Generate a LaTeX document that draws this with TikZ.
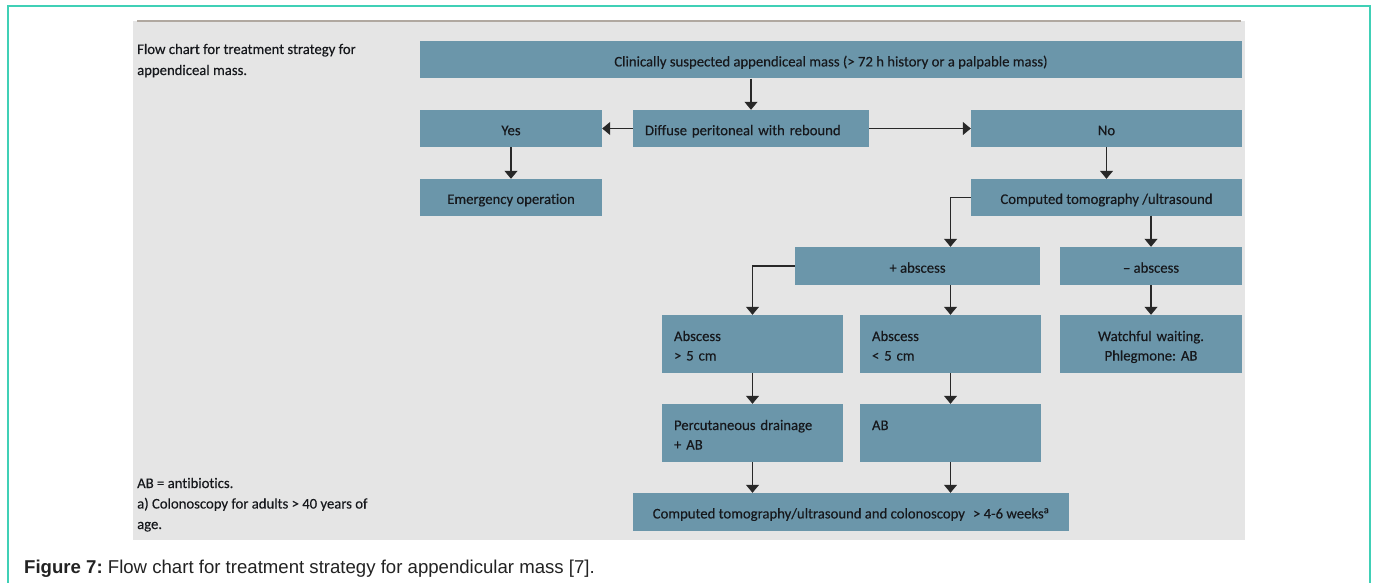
\documentclass[tikz,border=0pt]{standalone}
\usepackage{fontspec}
\setmainfont{Carlito}[Ligatures=NoCommon, FakeBold=0.25]
\newfontfamily\capfont{Liberation Sans}
\usetikzlibrary{arrows.meta}
\definecolor{boxblue}{RGB}{107,150,170}
\definecolor{boxtext}{RGB}{22,24,28}
\definecolor{bggray}{RGB}{229,229,229}
\definecolor{topline}{RGB}{176,168,160}
\definecolor{teal}{RGB}{64,208,182}
\definecolor{linec}{RGB}{40,40,40}
\definecolor{captext}{RGB}{34,34,34}
\frenchspacing
\begin{document}
\begin{tikzpicture}[x=1pt,y=-1pt,
  bfont/.style={font=\fontsize{14.7}{19.5}\selectfont\frenchspacing},
  box/.style={fill=boxblue, text=boxtext, inner sep=0pt, bfont},
  one/.style={text height=13.4pt, text depth=0pt},
  two/.style={text height=10pt, text depth=16pt},
  bx/.style 2 args={box, one, minimum width=#1, minimum height=#2},
  lbx/.style 2 args={box, two, minimum width=#1, minimum height=#2, inner xsep=12pt, text width=#1-24pt, align=left},
  cbx/.style 2 args={box, two, minimum width=#1, minimum height=#2, inner xsep=6pt, text width=#1-12pt, align=center},
  note/.style={anchor=base west, inner sep=0pt, text=boxtext, bfont},
  arr/.style={draw=linec, line width=1.1pt, -{Triangle[width=13pt,length=8pt]}}]
\useasboundingbox (0,0) rectangle (1375,583);
\fill[white] (0,0) rectangle (1375,583);
% outer frame
\draw[teal, line width=1.5pt] (8,583) -- (8,6) -- (1370,6) -- (1370,583);
% gray panel
\fill[bggray] (133,21) rectangle (1245,540);
\draw[topline, line width=2pt] (137,21.5) -- (1241,21.5);

% notes
\node[note] (n1) at (137,54) {Flow chart for treatment strategy for};
\node[note] (n2) at (137,75) {appendiceal mass.};
\node[note] (n3) at (137,488) {AB = antibiotics.};
\node[note] (n4) at (137,508.5) {a) Colonoscopy for adults > 40 years of};
\node[note] (n5) at (137,529) {age.};

% boxes
\node[bx={822pt}{37.5pt}] (top) at (831,59.75) {Clinically suspected appendiceal mass (> 72 h history or a palpable mass)};
\node[bx={182pt}{37pt}] (yes) at (511,128.5) {Yes};
\node[bx={236pt}{37pt}, inner xsep=12pt, text width=212pt, align=left] (diff) at (751,128.5) {Diffuse peritoneal with rebound};
\node[bx={271pt}{37pt}] (no) at (1106.5,128.5) {No};
\node[bx={182pt}{36.5pt}] (emerg) at (511,197.25) {Emergency operation};
\node[bx={271pt}{36.5pt}] (ct) at (1106.5,197.25) {Computed tomography /ultrasound};
\node[bx={245pt}{38pt}] (plus) at (917.5,266) {+ abscess};
\node[bx={182pt}{38pt}] (minus) at (1151,266) {– abscess};
\node[lbx={181pt}{58pt}] (agt) at (752.5,344) {Abscess\\> 5 cm};
\node[lbx={181pt}{58pt}] (alt) at (950.5,344) {Abscess\\< 5 cm};
\node[cbx={182pt}{58pt}] (watch) at (1151,344) {Watchful waiting.\\Phlegmone: AB};
\node[lbx={181pt}{58pt}] (perc) at (752.5,433) {Percutaneous drainage\\+ AB};
\node[lbx={181pt}{58pt}] (ab) at (950.5,433) {AB\\\strut};
\node[bx={436pt}{37.5pt}] (final) at (851,511.75) {Computed tomography/ultrasound and colonoscopy\hspace{0.55em}> 4-6 weeks\textsuperscript{a}};

% connectors
\draw[arr] (top.south -| diff) -- (diff.north);
\draw[arr] (diff.west) -- (yes.east);
\draw[arr] (diff.east) -- (no.west);
\draw[arr] (yes) -- (emerg);
\draw[arr] (no) -- (ct);
\draw[arr] (ct.west) -| (plus.north -| alt);
\draw[arr] (ct.south -| minus) -- (minus.north);
\draw[arr] (plus.west) -| (agt.north);
\draw[arr] (plus.south -| alt) -- (alt.north);
\draw[arr] (minus) -- (watch);
\draw[arr] (agt) -- (perc);
\draw[arr] (alt) -- (ab);
\draw[arr] (perc.south) -- (final.north -| perc);
\draw[arr] (ab.south) -- (final.north -| ab);

% caption
\node[anchor=base west, inner sep=0pt, text=captext, font=\capfont\fontsize{18.6}{21}\selectfont] (cap) at (24,573) {\textbf{Figure 7:} Flow chart for treatment strategy for appendicular mass [7].};
\end{tikzpicture}
\end{document}
